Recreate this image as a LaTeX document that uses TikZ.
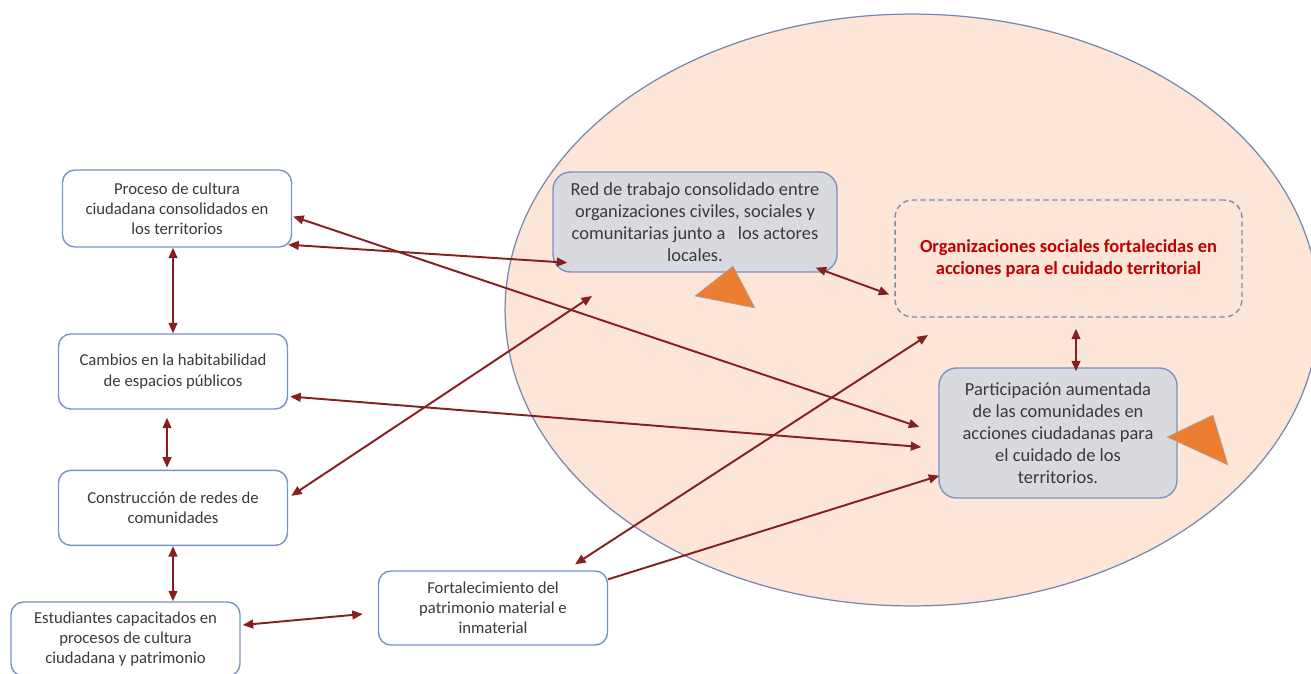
\documentclass[tikz,border=0pt]{standalone}
\usepackage{fontspec}
\setmainfont{Carlito}
\usetikzlibrary{arrows.meta, positioning, calc}
\definecolor{boxblue}{HTML}{7A93C4}
\definecolor{ellblue}{HTML}{7388B0}
\definecolor{peach}{HTML}{FDE6D8}
\definecolor{resgray}{HTML}{D9DADF}
\definecolor{txtgray}{HTML}{3A3A3A}
\definecolor{goalred}{HTML}{C00000}
\definecolor{dashgray}{HTML}{7F8AA5}
\definecolor{arrowred}{HTML}{862020}
\definecolor{triorange}{HTML}{ED7D31}
\tikzset{
    box/.style={rectangle, draw=boxblue, line width=0.8pt, fill=white, rounded corners=7pt, minimum width=4.58cm, minimum height=1.5cm, align=center, text=txtgray, font=\fontsize{9.5}{11.5}\selectfont},
    result/.style={box, fill=resgray, rounded corners=10pt, font=\fontsize{10.5}{12.5}\selectfont},
    goal/.style={box, draw=dashgray, fill=none, dash pattern=on 3pt off 2pt, rounded corners=10pt, text=goalred, font=\fontsize{10.5}{12.5}\selectfont\bfseries},
    link/.style={{Triangle[length=6pt,width=5pt]}-{Triangle[length=6pt,width=5pt]}, draw=arrowred, line width=1.1pt},
    linkone/.style={-{Triangle[length=6pt,width=5pt]}, draw=arrowred, line width=1.1pt},
    tri/.style={fill=triorange, draw=ellblue!70, line width=0.3pt},
}
\begin{document}
\begin{tikzpicture}[x=0.02cm, y=-0.02cm, node distance=1.2cm]
    \useasboundingbox (0,0) rectangle (1311,673);
    \clip (0,0) rectangle (1311,673);
    \draw[draw=ellblue, fill=peach, line width=0.7pt] (912,310) ellipse [x radius=8.14cm, y radius=5.92cm];
    \node[box, minimum height=1.54cm] (proc) at (177,208.5) {Proceso de cultura\\ciudadana consolidados en\\los territorios};
    \node[box] (cambios) at (173,371.5) {Cambios en la habitabilidad\\de espacios públicos};
    \node[box, below=of cambios] (constr) {Construcción de redes de\\comunidades};
    \node[box, minimum height=1.48cm] (estud) at (125.5,639) {Estudiantes capacitados en\\procesos de cultura\\ciudadana y patrimonio};
    \node[box, minimum height=1.48cm] (fort) at (493,608) {Fortalecimiento del\\patrimonio material e\\inmaterial};
    \node[result, minimum width=5.68cm, minimum height=2cm] (red) at (695,222) {Red de trabajo consolidado entre\\organizaciones civiles, sociales y\\comunitarias junto a\ \ \ los actores\\locales.};
    \node[goal, minimum width=6.94cm, minimum height=2.34cm] (org) at (1068.5,258.5) {Organizaciones sociales fortalecidas en\\acciones para el cuidado territorial};
    \node[result, minimum width=4.76cm, minimum height=2.6cm] (part) at (1058,433) {Participación aumentada\\de las comunidades en\\acciones ciudadanas para\\el cuidado de los\\territorios.};
    \coordinate (redin) at (592,296);
    \coordinate (orgin) at (928,335);
    \draw[link] (proc.south -| cambios.north) -- (cambios.north);
    \draw[link] ($(cambios.south)+(-6,8)$) -- ($(constr.north)+(-6,-2)$);
    \draw[link] (constr.south) -- (constr.south |- estud.north);
    \draw[link] ($(estud.east)+(2,-14)$) -- ($(fort.west)+(-15,6)$);
    \draw[link] ($(proc.south east)+(-4,-3)$) -- ($(red.south west)+(15,-10)$);
    \draw[link] ($(proc.east)+(1,8)$) -- ($(part.west)+(-19,-6)$);
    \draw[link] ($(cambios.east)+(2,25)$) -- ($(part.west)+(-17,14)$);
    \draw[link] ($(constr.east)+(3,-12)$) -- (redin);
    \draw[link] ($(red.south east)+(-22,-5)$) -- ($(org.west)+(-5,36)$);
    \draw[link] ($(org.south)+(7.5,11)$) -- ($(part.north)+(18,4)$);
    \draw[link] ($(fort.north)+(82,-6)$) -- (orgin);
    \draw[linkone] ($(fort.north east)+(0,9)$) -- ($(part.south west)+(1,-23)$);
    \draw[tri] (695,296) -- (733,266) -- (755,308) -- cycle;
    \draw[tri] (1167,437) -- (1213,415) -- (1228,465) -- cycle;
\end{tikzpicture}
\end{document}
